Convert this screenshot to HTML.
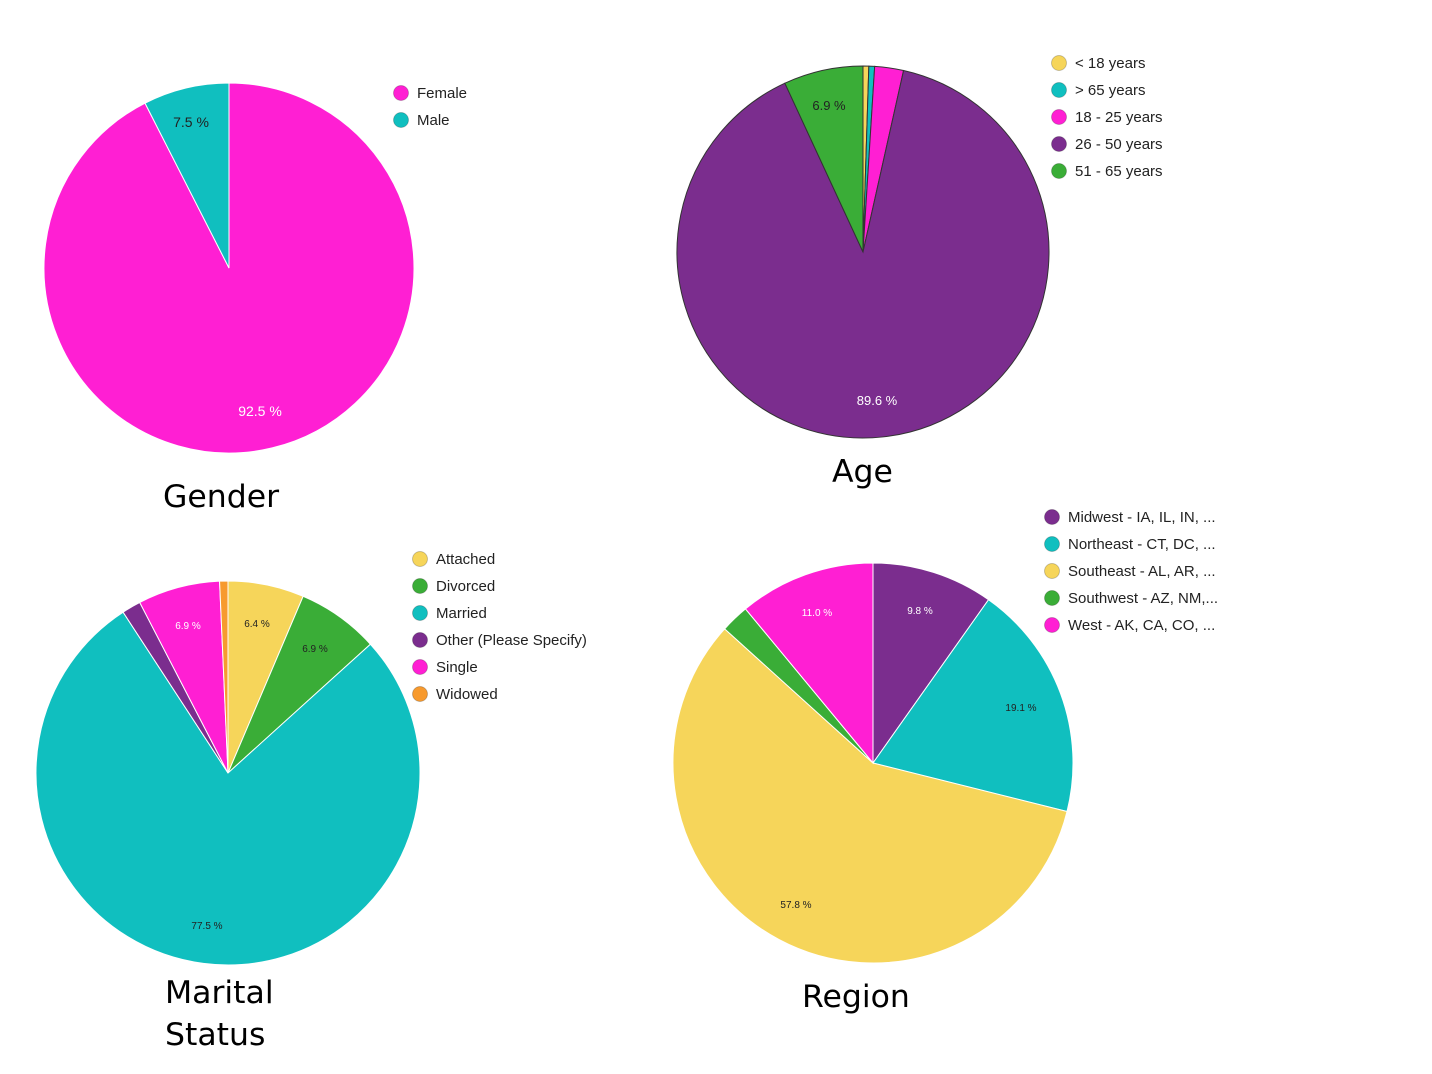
<!DOCTYPE html>
<html><head><meta charset="utf-8"><style>
html,body{margin:0;padding:0;background:#fff;}
svg{display:block;font-family:"Liberation Sans",Arial,sans-serif;}
.t{font-family:"DejaVu Sans",sans-serif;font-size:31.5px;fill:#000;}
.lg{font-size:15px;fill:#222;}
</style></head><body>
<svg id="s" width="1432" height="1074" viewBox="0 0 1432 1074" xmlns="http://www.w3.org/2000/svg">
<g id="pies"></g>
<text class="t" x="163" y="507">Gender</text>
<text class="t" x="832" y="482">Age</text>
<text class="t" x="165" y="1003">Marital</text>
<text class="t" x="165" y="1045">Status</text>
<text class="t" x="802" y="1007">Region</text>

<text x="191" y="127" font-size="14" fill="#222" text-anchor="middle">7.5 %</text>
<text x="260" y="416" font-size="14" fill="#fff" text-anchor="middle">92.5 %</text>
<text x="829" y="110" font-size="13" fill="#222" text-anchor="middle">6.9 %</text>
<text x="877" y="405" font-size="13" fill="#fff" text-anchor="middle">89.6 %</text>
<text x="188" y="629" font-size="10" fill="#fff" text-anchor="middle">6.9 %</text>
<text x="257" y="627" font-size="10" fill="#222" text-anchor="middle">6.4 %</text>
<text x="315" y="652" font-size="10" fill="#222" text-anchor="middle">6.9 %</text>
<text x="207" y="929" font-size="10" fill="#222" text-anchor="middle">77.5 %</text>
<text x="920" y="614" font-size="10" fill="#fff" text-anchor="middle">9.8 %</text>
<text x="1021" y="711" font-size="10" fill="#222" text-anchor="middle">19.1 %</text>
<text x="817" y="616" font-size="10" fill="#fff" text-anchor="middle">11.0 %</text>
<text x="796" y="908" font-size="10" fill="#222" text-anchor="middle">57.8 %</text>
<g id="leg"></g>
</svg>
<script>
var NS="http://www.w3.org/2000/svg";
var P="#ff1fd3",T="#10bfbf",U="#7b2d8e",G="#3aad37",Y="#f6d55a",O="#f79a2e";
function pie(cx,cy,r,data,stroke,sw){
 var g=document.getElementById("pies");var a=0;
 data.forEach(function(d){
  var a2=a+d[0]/100*2*Math.PI;
  var x1=cx+r*Math.sin(a),y1=cy-r*Math.cos(a),x2=cx+r*Math.sin(a2),y2=cy-r*Math.cos(a2);
  var p=document.createElementNS(NS,"path");
  p.setAttribute("d","M"+cx+","+cy+"L"+x1+","+y1+"A"+r+","+r+" 0 "+((a2-a)>Math.PI?1:0)+" 1 "+x2+","+y2+"Z");
  p.setAttribute("fill",d[1]);p.setAttribute("stroke",stroke);p.setAttribute("stroke-width",sw);
  g.appendChild(p);a=a2;});
}
pie(229,268,185,[[92.5,P],[7.5,T]],"#fff",1);
pie(863,252,186,[[0.5,Y],[0.5,T],[2.5,P],[89.6,U],[6.9,G]],"#333",1);
pie(228,773,192,[[6.4,Y],[6.9,G],[77.5,T],[1.6,U],[6.9,P],[0.7,O]],"#fff",1);
pie(873,763,200,[[9.8,U],[19.1,T],[57.8,Y],[2.3,G],[11.0,P]],"#fff",1);
function leg(x,y,items){
 var g=document.getElementById("leg");
 items.forEach(function(it,i){
  var yy=y+i*27;
  var c=document.createElementNS(NS,"circle");c.setAttribute("cx",x);c.setAttribute("cy",yy);c.setAttribute("r",7.5);
  c.setAttribute("fill",it[1]);c.setAttribute("stroke","rgba(0,0,0,0.2)");g.appendChild(c);
  var t=document.createElementNS(NS,"text");t.setAttribute("x",x+16);t.setAttribute("y",yy+5);t.setAttribute("class","lg");
  t.textContent=it[0];g.appendChild(t);});
}
leg(401,93,[["Female",P],["Male",T]]);
leg(1059,63,[["< 18 years",Y],["> 65 years",T],["18 - 25 years",P],["26 - 50 years",U],["51 - 65 years",G]]);
leg(420,559,[["Attached",Y],["Divorced",G],["Married",T],["Other (Please Specify)",U],["Single",P],["Widowed",O]]);
leg(1052,517,[["Midwest - IA, IL, IN, ...",U],["Northeast - CT, DC, ...",T],["Southeast - AL, AR, ...",Y],["Southwest - AZ, NM,...",G],["West - AK, CA, CO, ...",P]]);
</script>
</body></html>
